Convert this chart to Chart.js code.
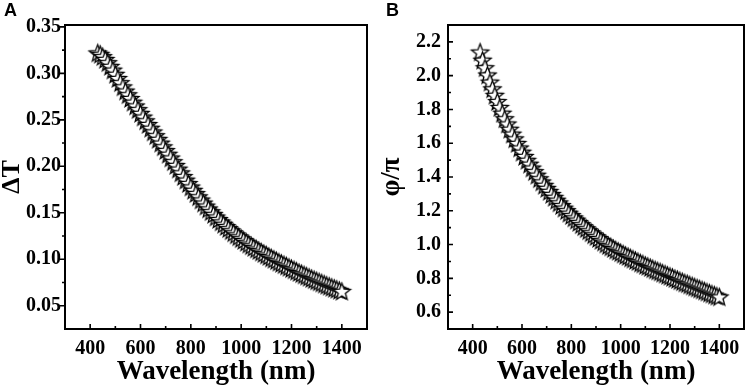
<!DOCTYPE html>
<html>
<head>
<meta charset="utf-8">
<script src="https://cdn.jsdelivr.net/npm/chart.js@4/dist/chart.umd.min.js"></script>
<style>
  html, body { margin: 0; padding: 0; background: #fff; }
  #wrap { position: relative; width: 754px; height: 388px; overflow: hidden; }
  .panel { position: absolute; top: 0; width: 377px; height: 388px; }
  .tag { position: absolute; top: 0px; font: bold 18px "Liberation Sans", Arial, sans-serif; color: #000; }
</style>
</head>
<body>
<div id="wrap">
  <div class="panel" style="left:0"><canvas id="graficoA" width="377" height="388"></canvas></div>
  <div class="panel" style="left:377px"><canvas id="graficoB" width="377" height="388"></canvas></div>
  <div class="tag" style="left:4px">A</div>
  <div class="tag" style="left:386px">B</div>
</div>
<script>
// comprimento de onda (nm)
const wavelength = [
  430, 440, 450, 460, 470, 480, 490, 500, 510, 520, 530, 540, 550, 560, 570, 580, 590, 600,
  610, 620, 630, 640, 650, 660, 670, 680, 690, 700, 710, 720, 730, 740, 750, 760, 770, 780,
  790, 800, 810, 820, 830, 840, 850, 860, 870, 880, 890, 900, 910, 920, 930, 940, 950, 960,
  970, 980, 990, 1000, 1010, 1020, 1030, 1040, 1050, 1060, 1070, 1080, 1090, 1100, 1110, 1120,
  1130, 1140, 1150, 1160, 1170, 1180, 1190, 1200, 1210, 1220, 1230, 1240, 1250, 1260, 1270, 1280,
  1290, 1300, 1310, 1320, 1330, 1340, 1350, 1360, 1370, 1380, 1390, 1400
];

// painel A: delta T
const deltaT = [
  0.322, 0.3205, 0.318, 0.315, 0.3115, 0.3075, 0.3035, 0.299, 0.2945, 0.290, 0.2855, 0.281, 0.277, 0.273, 0.269, 0.265, 0.261, 0.257,
  0.253, 0.249, 0.245, 0.241, 0.237, 0.233, 0.229, 0.225, 0.221, 0.217, 0.213, 0.209, 0.205, 0.201, 0.197, 0.193, 0.189, 0.1852,
  0.1815, 0.1778, 0.1742, 0.1707, 0.1672, 0.1638, 0.1605, 0.1573, 0.1542, 0.1512, 0.1483, 0.1455, 0.1428, 0.1402, 0.1377, 0.1353, 0.1330, 0.1307,
  0.1285, 0.1263, 0.1242, 0.1222, 0.1202, 0.1183, 0.1164, 0.1146, 0.1128, 0.1111, 0.1094, 0.1078, 0.1062, 0.1046, 0.1030, 0.1015,
  0.1000, 0.0985, 0.0970, 0.0956, 0.0942, 0.0928, 0.0914, 0.0900, 0.0886, 0.0872, 0.0858, 0.0845, 0.0832, 0.0819, 0.0806, 0.0793,
  0.0781, 0.0769, 0.0757, 0.0745, 0.0733, 0.0721, 0.0710, 0.0699, 0.0688, 0.0677, 0.0666, 0.0655
];

// painel B: phi / pi
const phiOverPi = [
  2.140, 2.092, 2.047, 2.004, 1.962, 1.922, 1.884, 1.847, 1.812, 1.778, 1.745, 1.714, 1.683, 1.654, 1.626, 1.599, 1.572, 1.547,
  1.522, 1.499, 1.476, 1.453, 1.432, 1.411, 1.390, 1.371, 1.351, 1.333, 1.315, 1.297, 1.280, 1.263, 1.247, 1.231, 1.216, 1.201,
  1.186, 1.172, 1.158, 1.145, 1.131, 1.118, 1.106, 1.094, 1.082, 1.070, 1.058, 1.047, 1.036, 1.025, 1.015, 1.004, 0.994, 0.986,
  0.977, 0.968, 0.960, 0.952, 0.944, 0.936, 0.929, 0.921, 0.914, 0.906, 0.899, 0.891, 0.885, 0.877, 0.871, 0.864,
  0.857, 0.850, 0.844, 0.838, 0.831, 0.825, 0.818, 0.812, 0.806, 0.799, 0.793, 0.786, 0.780, 0.773, 0.768, 0.761,
  0.755, 0.749, 0.743, 0.737, 0.731, 0.725, 0.719, 0.713, 0.707, 0.701, 0.695, 0.690
];

const xTicks = [400, 600, 800, 1000, 1200, 1400];
const xMinor = [500, 700, 900, 1100, 1300];
const yTicksA = [0.05, 0.10, 0.15, 0.20, 0.25, 0.30, 0.35];
const yMinorA = [0.075, 0.125, 0.175, 0.225, 0.275, 0.325];
const yTicksB = [0.6, 0.8, 1.0, 1.2, 1.4, 1.6, 1.8, 2.0, 2.2];
const yMinorB = [0.7, 0.9, 1.1, 1.3, 1.5, 1.7, 1.9, 2.1];

const serif = '"Liberation Serif", "Times New Roman", serif';

// estrela vazada (contorno preto, miolo branco)
function criarEstrela(r) {
  const c = document.createElement('canvas');
  const s = Math.ceil(r * 2 + 4) | 1;
  c.width = s; c.height = s;
  const g = c.getContext('2d');
  g.beginPath();
  for (let i = 0; i < 10; i++) {
    const rad = i % 2 ? r * 0.42 : r;
    const a = -Math.PI / 2 + i * Math.PI / 5;
    const px = s / 2 + rad * Math.cos(a), py = s / 2 + 0.8 + rad * Math.sin(a);
    if (i) g.lineTo(px, py); else g.moveTo(px, py);
  }
  g.closePath();
  g.fillStyle = '#fff';
  g.fill();
  g.strokeStyle = '#000';
  g.lineWidth = 1.3;
  g.lineJoin = 'miter';
  g.stroke();
  return c;
}
const estrela = criarEstrela(9);

// moldura + marcas de escala (para dentro / para fora)
const molduraPlugin = {
  id: 'moldura',
  afterDraw(chart) {
    const { ctx, chartArea: a, scales: { x, y } } = chart;
    const o = chart.options.plugins.moldura;
    ctx.save();
    ctx.strokeStyle = '#000';
    ctx.lineWidth = 1.6;
    ctx.beginPath();
    o.xMaj.forEach(v => { const px = x.getPixelForValue(v); ctx.moveTo(px, a.bottom); ctx.lineTo(px, a.bottom - 5); });
    o.xMin.forEach(v => { const px = x.getPixelForValue(v); ctx.moveTo(px, a.bottom); ctx.lineTo(px, a.bottom - 3); });
    o.yMaj.forEach(v => { const py = y.getPixelForValue(v); ctx.moveTo(a.left, py); ctx.lineTo(a.left + 5 * o.yDir, py); });
    o.yMin.forEach(v => { const py = y.getPixelForValue(v); ctx.moveTo(a.left, py); ctx.lineTo(a.left + 3 * o.yDir, py); });
    ctx.stroke();
    ctx.lineWidth = 2;
    ctx.strokeRect(a.left, a.top, a.right - a.left, a.bottom - a.top);
    ctx.restore();
  }
};

function montarGrafico(id, valores, cfg) {
  const pontos = wavelength.map((w, i) => ({ x: w, y: valores[i] }));
  return new Chart(document.getElementById(id), {
    type: 'scatter',
    data: {
      datasets: [{
        data: pontos,
        pointStyle: estrela,
        pointRadius: 9,
        pointHoverRadius: 9,
        showLine: false
      }]
    },
    options: {
      responsive: false,
      animation: false,
      events: [],
      layout: { padding: { left: 0, right: cfg.padRight, top: 25, bottom: 0 } },
      plugins: {
        legend: { display: false },
        tooltip: { enabled: false },
        moldura: { xMaj: xTicks, xMin: xMinor, yMaj: cfg.yTicks, yMin: cfg.yMinor, yDir: cfg.yDir }
      },
      scales: {
        x: {
          type: 'linear',
          min: 300,
          max: 1500,
          afterBuildTicks: s => { s.ticks = xTicks.map(v => ({ value: v })); },
          afterFit: s => { s.height = 59; },
          grid: { display: false, drawTicks: false },
          border: { display: false },
          ticks: { color: '#000', padding: 8, maxRotation: 0, font: { family: serif, size: 20, weight: 'bold' }, callback: v => String(v) },
          title: { display: true, text: 'Wavelength (nm)', color: '#000', padding: { top: 0, bottom: 0 }, font: { family: serif, size: 27, weight: 'bold', lineHeight: 1.15 } }
        },
        y: {
          type: 'linear',
          min: cfg.yMin,
          max: cfg.yMax,
          afterBuildTicks: s => { s.ticks = cfg.yTicks.map(v => ({ value: v })); },
          afterFit: s => { s.width = cfg.yWidth; },
          grid: { display: false, drawTicks: false },
          border: { display: false },
          ticks: { color: '#000', padding: cfg.yPad, font: { family: serif, size: 20, weight: 'bold' }, callback: v => v.toFixed(cfg.dec) },
          title: { display: true, text: cfg.titulo, color: '#000', padding: { top: 0, bottom: 0 }, font: { family: serif, size: cfg.tituloTam, weight: 'bold', lineHeight: cfg.tituloLH } }
        }
      }
    },
    plugins: [molduraPlugin]
  });
}

montarGrafico('graficoA', deltaT, {
  yMin: 0.025, yMax: 0.352, yTicks: yTicksA, yMinor: yMinorA, yDir: -1, dec: 2,
  yWidth: 65, yPad: 4, padRight: 9, titulo: '\u0394T', tituloTam: 26, tituloLH: 0.95
});
montarGrafico('graficoB', phiOverPi, {
  yMin: 0.5, yMax: 2.3, yTicks: yTicksB, yMinor: yMinorB, yDir: 1, dec: 1,
  yWidth: 71, yPad: 7, padRight: 3, titulo: '\u03C6/\u03C0', tituloTam: 27, tituloLH: 1.1
});
</script>
</body>
</html>
